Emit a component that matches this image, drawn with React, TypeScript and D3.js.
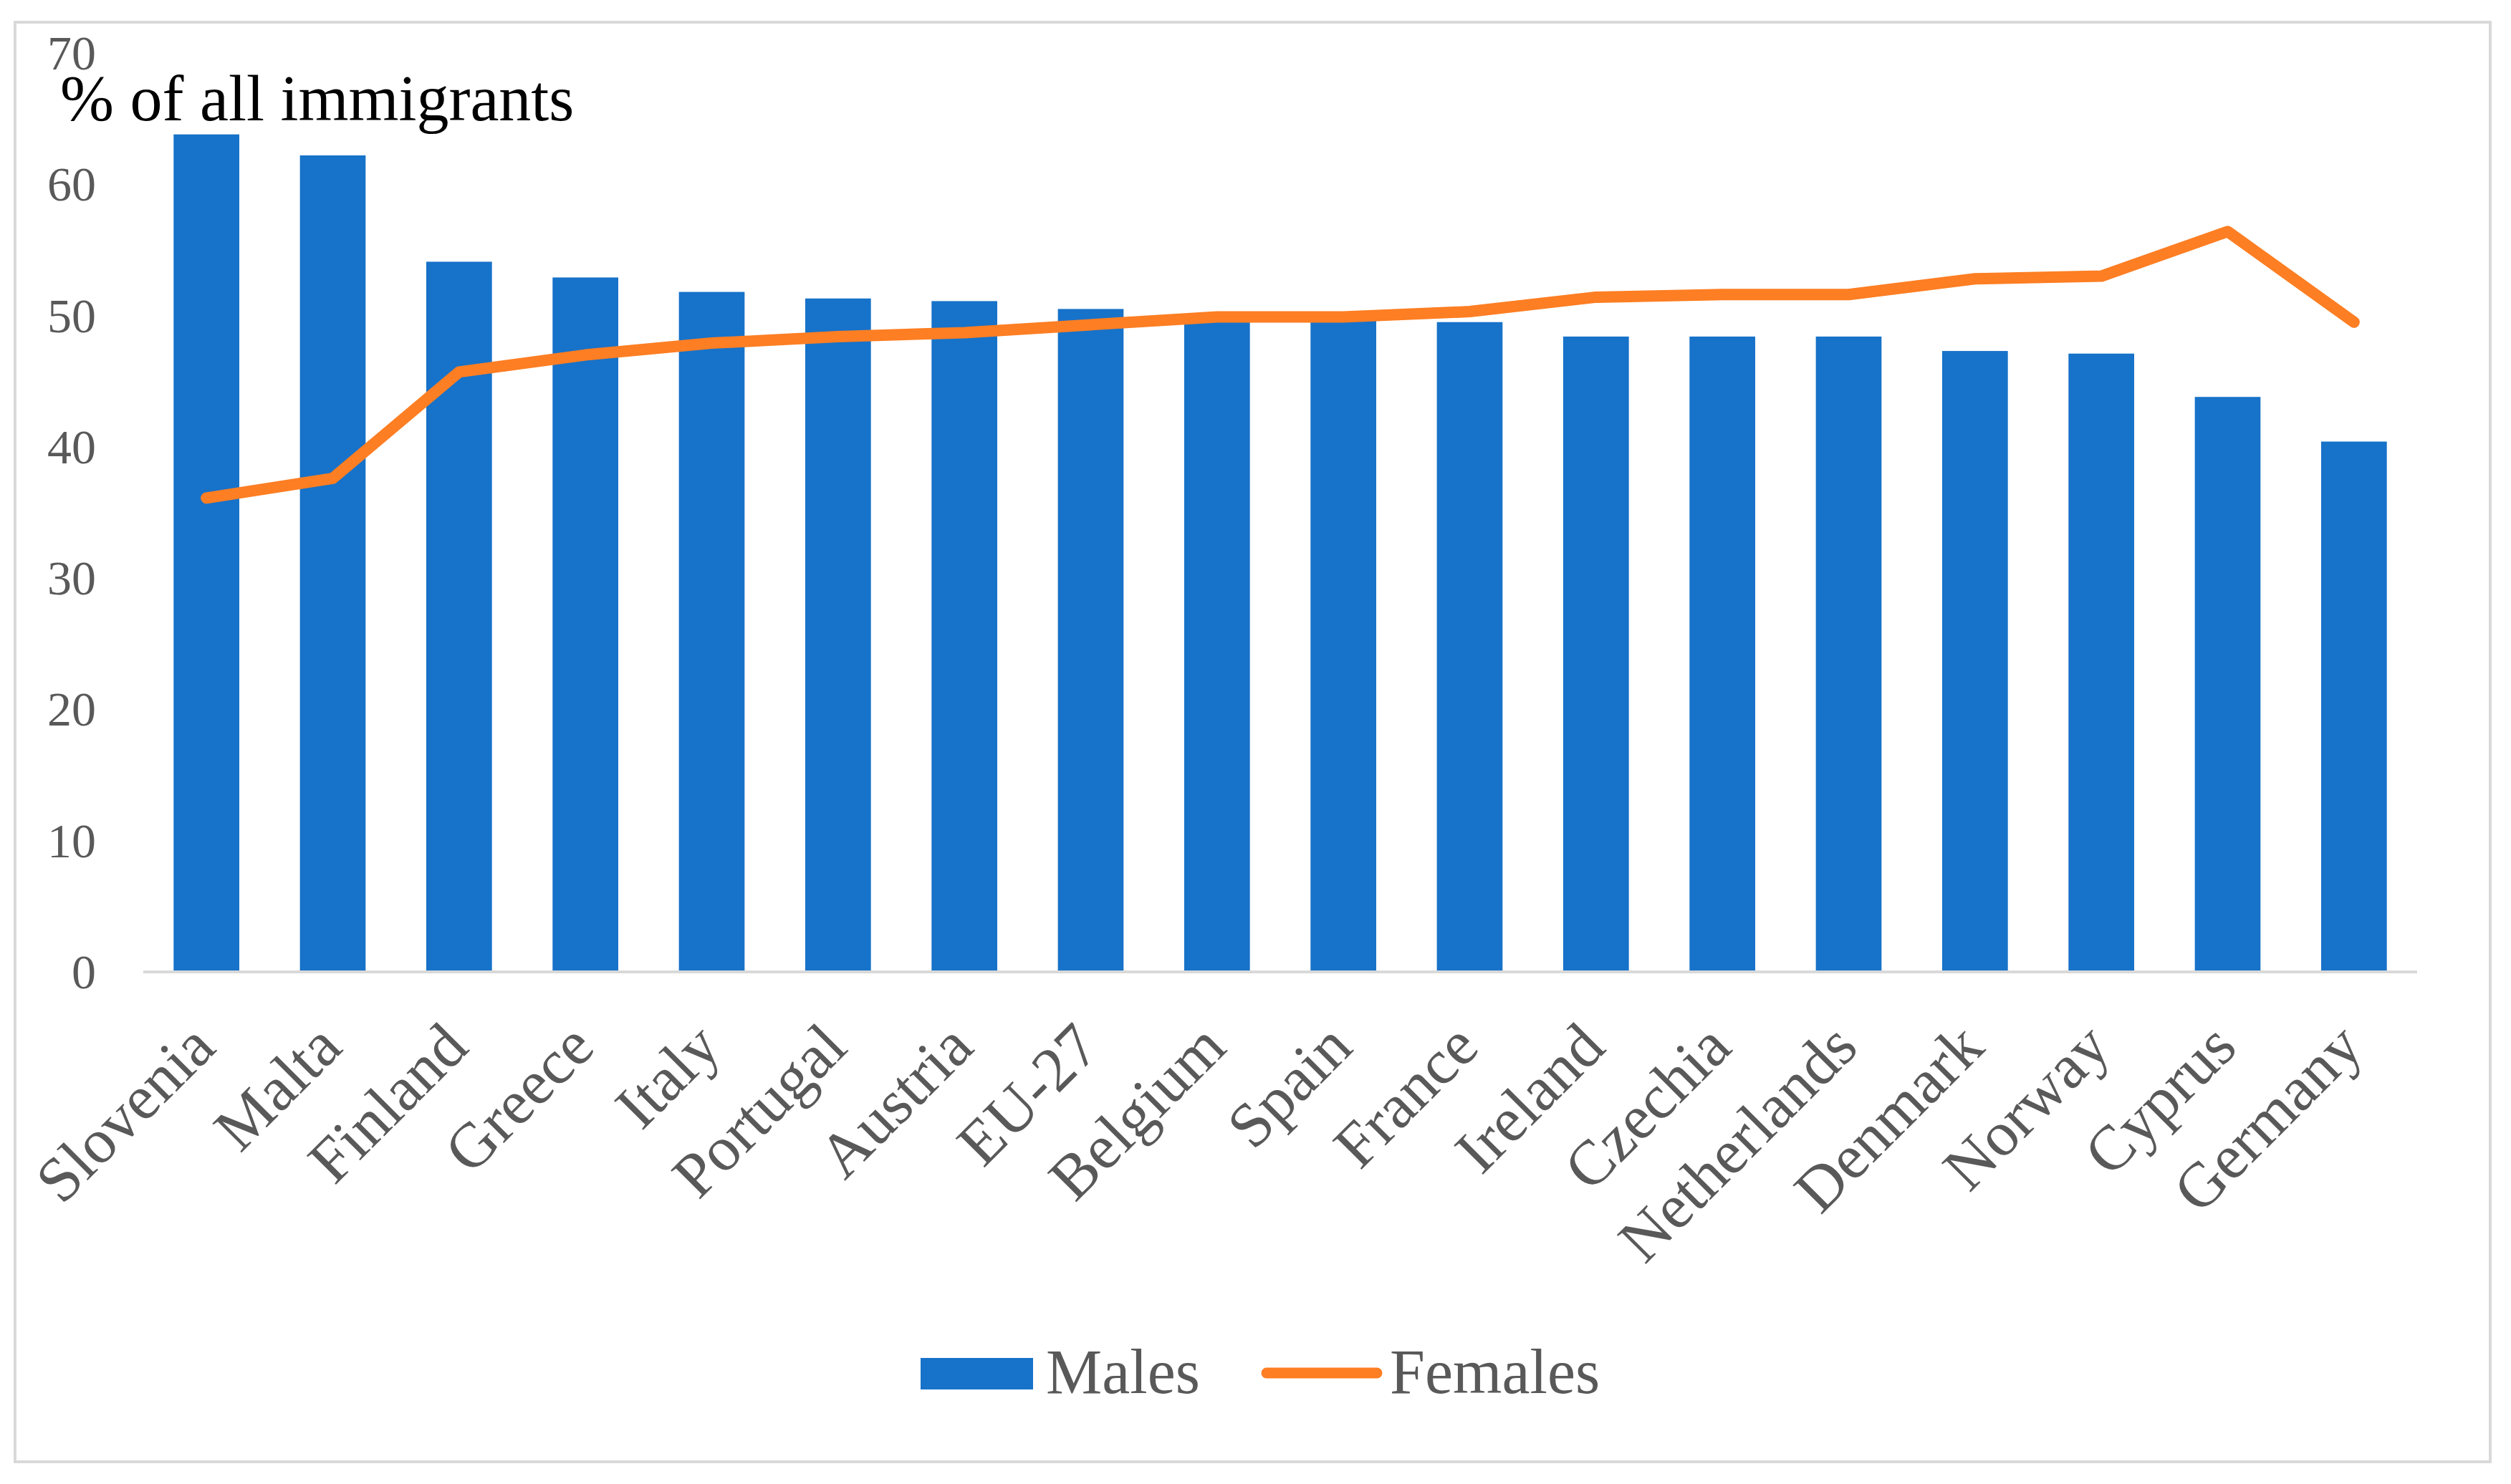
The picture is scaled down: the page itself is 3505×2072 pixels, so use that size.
import React from "react";
import * as d3 from "d3";

const countries = [
  "Slovenia",
  "Malta",
  "Finland",
  "Greece",
  "Italy",
  "Portugal",
  "Austria",
  "EU-27",
  "Belgium",
  "Spain",
  "France",
  "Ireland",
  "Czechia",
  "Netherlands",
  "Denmark",
  "Norway",
  "Cyprus",
  "Germany",
];

// share of all immigrants, %
const males = [
  63.8, 62.2, 54.1, 52.9, 51.8, 51.3, 51.1, 50.5, 49.7, 49.6, 49.5, 48.4, 48.4,
  48.4, 47.3, 47.1, 43.8, 40.4,
];
const females = [
  36.1, 37.6, 45.7, 47.0, 47.9, 48.4, 48.7, 49.3, 49.9, 49.9, 50.3, 51.4, 51.6,
  51.6, 52.8, 53.0, 56.4, 49.5,
];

const yTicks = [0, 10, 20, 30, 40, 50, 60, 70];

const W = 3505;
const H = 2072;
const FONT = "'Liberation Serif', 'DejaVu Serif', serif";
const BLUE = "#1772c9";
const ORANGE = "#fd7e23";
const GREY_TEXT = "#595959";

const App: React.FC = () => {
  const x = d3
    .scaleBand<string>()
    .domain(countries)
    .range([200, 3374])
    .paddingInner(0.48)
    .paddingOuter(0.24);

  const y = d3.scaleLinear().domain([0, 70]).range([1357, 74]);

  const cx = (c: string) => x(c)! + x.bandwidth() / 2;

  const line = d3
    .line<number>()
    .x((_d, i) => cx(countries[i]))
    .y((d) => y(d));

  return (
    <svg
      width={W}
      height={H}
      style={{ position: "absolute", left: 0, top: 0, background: "#fff" }}
    >
      <rect x={0} y={0} width={W} height={H} fill="#fff" />
      {/* outer frame */}
      <rect
        x={21}
        y={31}
        width={3455}
        height={2010}
        fill="none"
        stroke="#d9d9d9"
        strokeWidth={4}
      />

      {/* y tick labels */}
      {yTicks.map((t) => (
        <text
          key={t}
          x={134}
          y={y(t)}
          textAnchor="end"
          dominantBaseline="central"
          fontFamily={FONT}
          fontSize={68}
          fill={GREY_TEXT}
        >
          {t}
        </text>
      ))}

      <text x={84} y={168} fontFamily={FONT} fontSize={90} fill="#000">
        % of all immigrants
      </text>

      {/* bars */}
      {countries.map((c, i) => (
        <rect
          key={c}
          x={x(c)}
          y={y(males[i])}
          width={x.bandwidth()}
          height={y(0) - y(males[i])}
          fill={BLUE}
        />
      ))}

      {/* baseline */}
      <line
        x1={200}
        x2={3374}
        y1={y(0)}
        y2={y(0)}
        stroke="#d9d9d9"
        strokeWidth={4}
      />

      {/* females line */}
      <path
        d={line(females)!}
        fill="none"
        stroke={ORANGE}
        strokeWidth={16}
        strokeLinejoin="round"
        strokeLinecap="round"
      />

      {/* category labels */}
      {countries.map((c) => (
        <text
          key={c}
          transform={`translate(${cx(c) + 16},${1466}) rotate(-45)`}
          textAnchor="end"
          fontFamily={FONT}
          fontSize={88}
          fill={GREY_TEXT}
        >
          {c}
        </text>
      ))}

      {/* legend */}
      <rect x={1285} y={1896} width={157} height={44} fill={BLUE} />
      <text
        x={1460}
        y={1945}
        fontFamily={FONT}
        fontSize={88}
        fill={GREY_TEXT}
      >
        Males
      </text>
      <line
        x1={1768}
        x2={1922}
        y1={1917}
        y2={1917}
        stroke={ORANGE}
        strokeWidth={15}
        strokeLinecap="round"
      />
      <text
        x={1940}
        y={1945}
        fontFamily={FONT}
        fontSize={88}
        fill={GREY_TEXT}
      >
        Females
      </text>
    </svg>
  );
};

export default App;
